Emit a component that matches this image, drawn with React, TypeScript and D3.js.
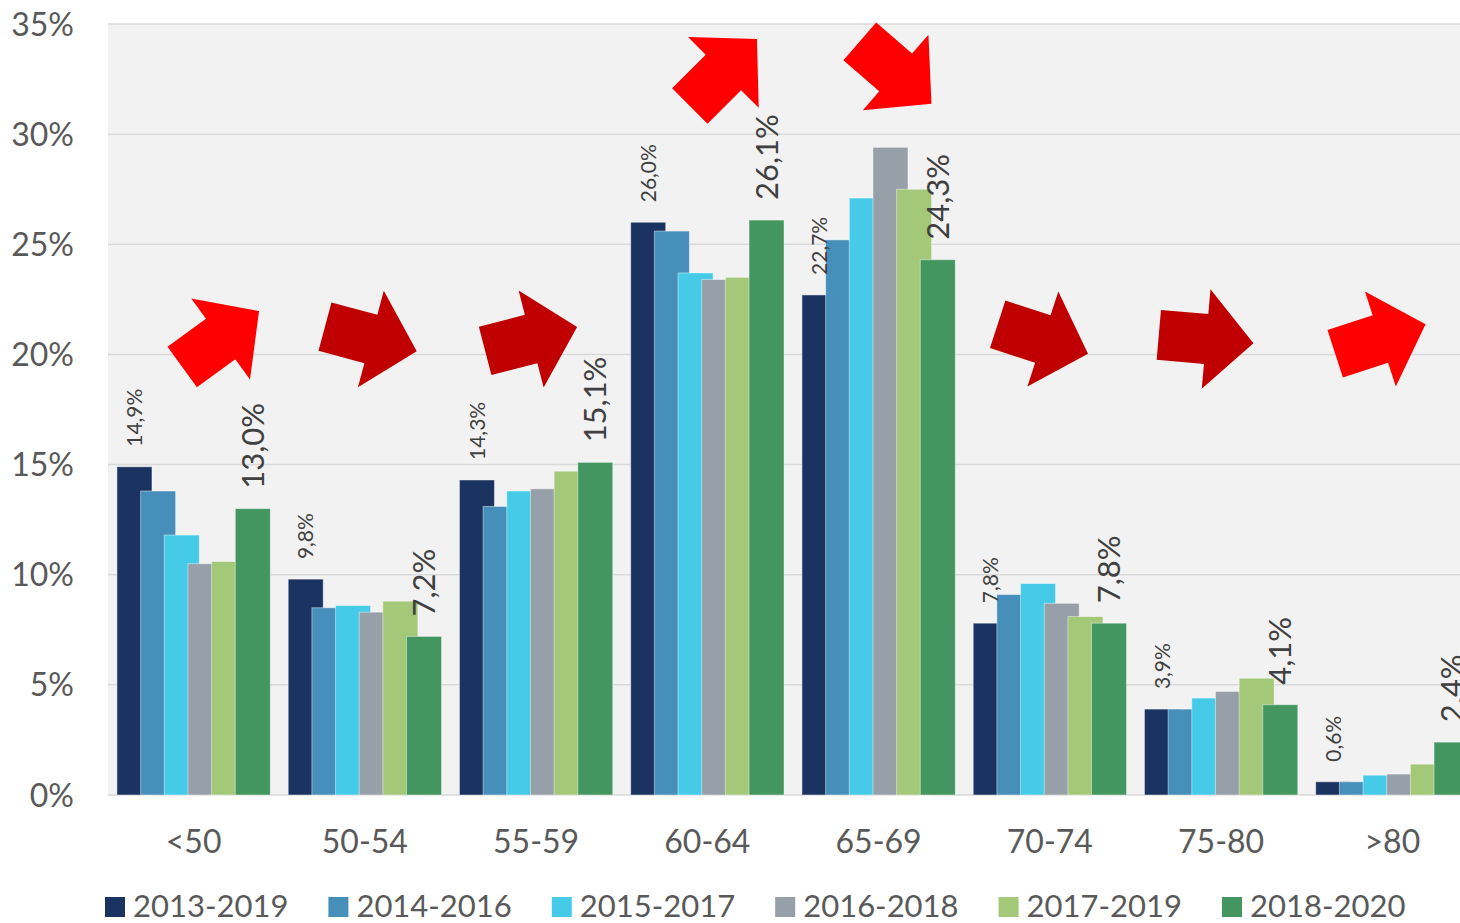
import React from 'react';
import * as d3 from 'd3';

const categories = ['<50', '50-54', '55-59', '60-64', '65-69', '70-74', '75-80', '>80'];
const seriesNames = ['2013-2019', '2014-2016', '2015-2017', '2016-2018', '2017-2019', '2018-2020'];
const seriesColors = ['#1b3360', '#468fba', '#45cbe8', '#979fa8', '#a3c878', '#43965f'];

// values in %, one array per series, same order as categories
const s2013 = [14.9, 9.8, 14.3, 26.0, 22.7, 7.8, 3.9, 0.6];
const s2014 = [13.8, 8.5, 13.1, 25.6, 25.2, 9.1, 3.9, 0.6];
const s2015 = [11.8, 8.6, 13.8, 23.7, 27.1, 9.6, 4.4, 0.9];
const s2016 = [10.5, 8.3, 13.9, 23.4, 29.4, 8.7, 4.7, 0.95];
const s2017 = [10.6, 8.8, 14.7, 23.5, 27.5, 8.1, 5.3, 1.4];
const s2018 = [13.0, 7.2, 15.1, 26.1, 24.3, 7.8, 4.1, 2.4];
const allSeries = [s2013, s2014, s2015, s2016, s2017, s2018];

const yTicks = [0, 5, 10, 15, 20, 25, 30, 35];

// trend arrows: category, level (%), rotation, colour
const arrowCats = ['<50', '50-54', '55-59', '60-64', '65-69', '70-74', '75-80', '>80'];
const arrowShift = [27, 6, -5, 16, 17, -7, -15, -12];
const arrowLevel = [20.7, 20.7, 20.7, 32.8, 32.8, 20.7, 20.7, 20.7];
const arrowAngle = [-36, 15, -14.5, -45, 41, 18, 5, -18];
const arrowColor = ['#ff0000', '#c00000', '#c00000', '#ff0000', '#ff0000', '#c00000', '#c00000', '#ff0000'];

const fmt = (v: number) => v.toFixed(1).replace('.', ',') + '%';

const W = 1460;
const H = 923;
const margin = { top: 24, left: 108, bottom: 128 };
const plotRight = 1478;

export default function App() {
  const x = d3.scaleBand<string>()
    .domain(categories)
    .range([margin.left, plotRight])
    .paddingInner(0.1046)
    .paddingOuter(0.0523);
  const y = d3.scaleLinear().domain([0, 35]).range([H - margin.bottom, margin.top]);

  const bw = x.bandwidth() * 35 / 153.3;
  const xs = d3.scalePoint<string>().domain(seriesNames).range([0, x.bandwidth() - bw]);

  const arrowPath = 'M-47.5,-25 L0,-25 L0,-50 L47.5,0 L0,50 L0,25 L-47.5,25 Z';
  const font = 'Lato, "Open Sans", sans-serif';

  const legendX = d3.scalePoint<string>().domain(seriesNames).range([105, 1222]);

  return (
    <svg width={W} height={H} style={{ position: 'absolute', left: 0, top: 0, display: 'block', background: '#fff' }} fontFamily={font}>
      <rect x={margin.left} y={y(35)} width={plotRight - margin.left} height={y(0) - y(35)} fill="#f2f2f2" />
      {yTicks.map(t => (
        <g key={t}>
          <line x1={margin.left} x2={plotRight} y1={y(t)} y2={y(t)} stroke="#d9d9d9" strokeWidth={1.5} />
          <text x={74} y={y(t)} dy="0.36em" textAnchor="end" fontSize={32} fill="#595959">{t}%</text>
        </g>
      ))}

      {categories.map((c, ci) => (
        <g key={c}>
          {allSeries.map((s, si) => (
            <rect key={si}
              x={(x(c) as number) + (xs(seriesNames[si]) as number)}
              y={y(s[ci])}
              width={bw}
              height={y(0) - y(s[ci])}
              fill={seriesColors[si]}
              stroke="#ffffff" strokeOpacity={0.45} strokeWidth={1} />
          ))}
          <text x={(x(c) as number) + x.bandwidth() / 2} y={853} textAnchor="middle" fontSize={32} fill="#595959">{c}</text>
        </g>
      ))}

      {/* data labels: first and last series */}
      {categories.map((c, ci) => {
        const cx0 = (x(c) as number) + (xs(seriesNames[0]) as number) + bw / 2;
        const cx5 = (x(c) as number) + (xs(seriesNames[5]) as number) + bw / 2;
        return (
          <g key={'l' + c}>
            <text transform={`translate(${cx0},${y(s2013[ci]) - 20}) rotate(-90)`} dy="0.36em" fontSize={21} fill="#404040">{fmt(s2013[ci])}</text>
            <text transform={`translate(${cx5},${y(s2018[ci]) - 20}) rotate(-90)`} dy="0.36em" fontSize={31} fill="#404040">{fmt(s2018[ci])}</text>
          </g>
        );
      })}

      {arrowCats.map((c, i) => (
        <path key={'a' + i} d={arrowPath}
          transform={`translate(${(x(c) as number) + x.bandwidth() / 2 + arrowShift[i]},${y(arrowLevel[i])}) rotate(${arrowAngle[i]})`}
          fill={arrowColor[i]} />
      ))}

      {seriesNames.map((n, i) => (
        <g key={'lg' + n} transform={`translate(${legendX(n)},0)`}>
          <rect x={0} y={897} width={20} height={20} fill={seriesColors[i]} />
          <text x={28} y={917} fontSize={31} fill="#595959">{n}</text>
        </g>
      ))}
    </svg>
  );
}
